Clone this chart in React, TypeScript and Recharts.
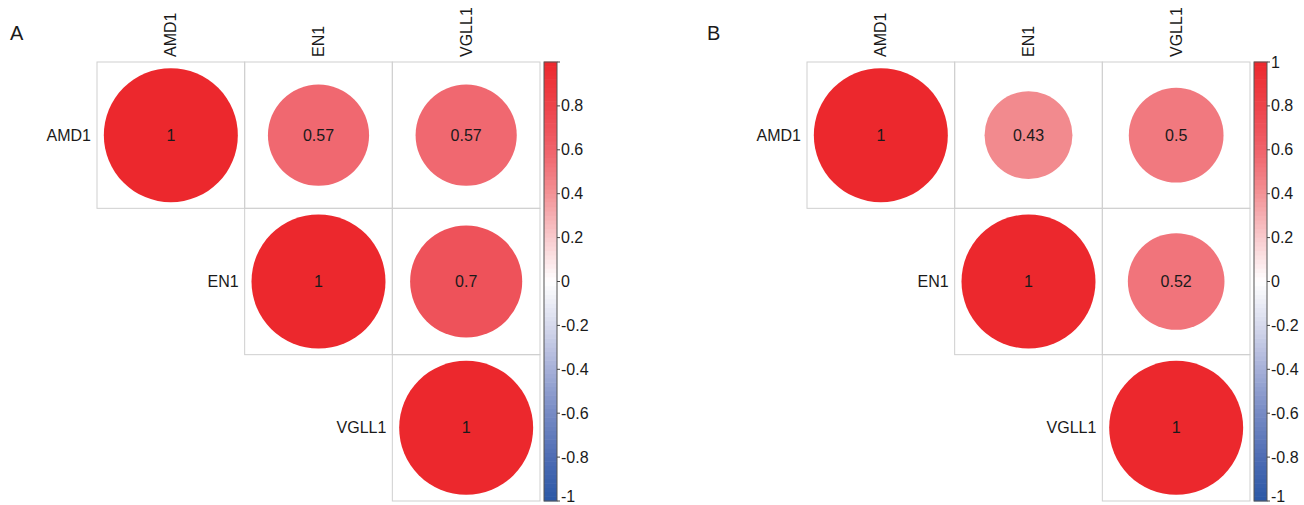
import React from 'react';
import { ScatterChart, Scatter, XAxis, YAxis } from 'recharts';

// gene names shared by both panels
const GENES = ['AMD1', 'EN1', 'VGLL1'];

// upper triangle, row by row: (AMD1,AMD1) (AMD1,EN1) (AMD1,VGLL1) (EN1,EN1) (EN1,VGLL1) (VGLL1,VGLL1)
const CORR_A = [1, 0.57, 0.57, 1, 0.7, 1];
const CORR_B = [1, 0.43, 0.5, 1, 0.52, 1];

const CB_TICKS = [-1, -0.8, -0.6, -0.4, -0.2, 0, 0.2, 0.4, 0.6, 0.8, 1];

const W = 594;
const H = 505;
const PLOT_LEFT = 97;
const PLOT_RIGHT = 540;
const PLOT_TOP = 62;
const PLOT_BOTTOM = 501;
const CELL_W = (PLOT_RIGHT - PLOT_LEFT) / 3;
const CELL_H = (PLOT_BOTTOM - PLOT_TOP) / 3;
const MAX_R = 67;
const CB_GAP = 4;
const CB_W = 13;
const FONT = '"Liberation Sans", Arial, Helvetica, sans-serif';

const RED_STOPS: [number, number[]][] = [
    [0, [255, 255, 255]],
    [0.2, [248, 202, 205]],
    [0.43, [242, 138, 142]],
    [0.57, [240, 104, 112]],
    [0.7, [238, 82, 90]],
    [1, [236, 40, 45]],
];
const BLUE_STOPS: [number, number[]][] = [
    [0, [255, 255, 255]],
    [0.2, [214, 217, 236]],
    [0.4, [166, 176, 216]],
    [0.6, [118, 138, 196]],
    [0.8, [78, 108, 180]],
    [1, [42, 88, 166]],
];

function corrColor(v: number) {
    const stops = v >= 0 ? RED_STOPS : BLUE_STOPS;
    const a = Math.min(1, Math.abs(v));
    for (let i = 1; i < stops.length; i++) {
        const [t1, c1] = stops[i];
        const [t0, c0] = stops[i - 1];
        if (a <= t1) {
            const f = (a - t0) / (t1 - t0);
            const c = c0.map((x, k) => Math.round(x + (c1[k] - x) * f));
            return `rgb(${c[0]},${c[1]},${c[2]})`;
        }
    }
    return 'rgb(236,40,45)';
}

function buildCells(values: number[]) {
    const out: any[] = [];
    let k = 0;
    for (let i = 0; i < GENES.length; i++) {
        for (let j = i; j < GENES.length; j++) {
            out.push({ x: j + 0.5, y: i + 0.5, r: values[k++] });
        }
    }
    return out;
}

// colour bar bands (legend only), anchored at the right edge of the grid
const BAND_STEP = 0.02;
const BANDS = Array.from({ length: 100 }, (_, i) => ({ x: 3, cb: -1 + i * BAND_STEP }));
const BAND_PX = ((PLOT_BOTTOM - PLOT_TOP) * BAND_STEP) / 2;
const CB_FRAME = [{ x: 3, cb: -1 }];

function CellShape(props: any) {
    const { cx, cy, payload } = props;
    const r = payload.r;
    return (
        <g>
            <rect
                x={cx - CELL_W / 2}
                y={cy - CELL_H / 2}
                width={CELL_W}
                height={CELL_H}
                fill="none"
                stroke="#cfcfcf"
                strokeWidth={1}
            />
            <circle cx={cx} cy={cy} r={MAX_R * Math.sqrt(Math.abs(r))} fill={corrColor(r)} />
            <text
                x={cx}
                y={cy}
                textAnchor="middle"
                dominantBaseline="central"
                fontSize={16}
                fontFamily={FONT}
                fill="#1a1a1a"
            >
                {String(r)}
            </text>
        </g>
    );
}

function BandShape(props: any) {
    const { cx, cy, payload } = props;
    return (
        <rect
            x={cx + CB_GAP}
            y={cy - BAND_PX - 0.3}
            width={CB_W}
            height={BAND_PX + 0.6}
            fill={corrColor(payload.cb + BAND_STEP / 2)}
        />
    );
}

function FrameShape(props: any) {
    const { cx, cy } = props;
    return (
        <rect
            x={cx + CB_GAP}
            y={cy - (PLOT_BOTTOM - PLOT_TOP)}
            width={CB_W}
            height={PLOT_BOTTOM - PLOT_TOP}
            fill="none"
            stroke="#555"
            strokeWidth={1}
        />
    );
}

function CorrPanel({ values, letter, left, showTop, letterX }: any) {
    const cells = buildCells(values);

    const colTick = (p: any) => {
        const idx = Math.round(p.payload.value - 0.5);
        const y = PLOT_TOP - 5;
        return (
            <text
                x={p.x}
                y={y}
                transform={`rotate(-90 ${p.x} ${y})`}
                textAnchor="start"
                dominantBaseline="central"
                fontSize={16}
                fontFamily={FONT}
                fill="#1a1a1a"
            >
                {GENES[idx]}
            </text>
        );
    };

    const rowTick = (p: any) => {
        const idx = Math.round(p.payload.value - 0.5);
        return (
            <text
                x={PLOT_LEFT + idx * CELL_W - 6}
                y={p.y}
                textAnchor="end"
                dominantBaseline="central"
                fontSize={16}
                fontFamily={FONT}
                fill="#1a1a1a"
            >
                {GENES[idx]}
            </text>
        );
    };

    const cbTick = (p: any) => {
        const v = p.payload.value;
        const x0 = PLOT_RIGHT + CB_GAP + CB_W;
        const hideLabel = v === 1 && !showTop;
        // keep the bottom label inside the picture
        const ty = v === -1 ? p.y - 5 : p.y;
        return (
            <g>
                <line x1={x0} x2={x0 + 3} y1={p.y} y2={p.y} stroke="#444" strokeWidth={1} />
                {!hideLabel && (
                    <text
                        x={x0 + 4}
                        y={ty}
                        textAnchor="start"
                        dominantBaseline="central"
                        fontSize={16}
                        fontFamily={FONT}
                        fill="#1a1a1a"
                    >
                        {String(v)}
                    </text>
                )}
            </g>
        );
    };

    return (
        <div style={{ position: 'absolute', left, top: 0, width: W, height: H }}>
            <div
                style={{
                    position: 'absolute',
                    left: letterX,
                    top: 23,
                    fontFamily: FONT,
                    fontSize: 20,
                    color: '#1a1a1a',
                    lineHeight: '20px',
                }}
            >
                {letter}
            </div>
            <ScatterChart
                width={W}
                height={H}
                margin={{ top: PLOT_TOP - 30, right: W - PLOT_RIGHT - 50, bottom: H - PLOT_BOTTOM, left: PLOT_LEFT - 60 }}
                style={{ overflow: 'visible' }}
            >
                <XAxis
                    type="number"
                    dataKey="x"
                    orientation="top"
                    domain={[0, 3]}
                    ticks={[0.5, 1.5, 2.5]}
                    interval={0}
                    height={30}
                    axisLine={false}
                    tickLine={false}
                    tick={colTick}
                />
                <YAxis
                    type="number"
                    dataKey="y"
                    domain={[0, 3]}
                    reversed
                    ticks={[0.5, 1.5, 2.5]}
                    interval={0}
                    width={60}
                    axisLine={false}
                    tickLine={false}
                    tick={rowTick}
                />
                <YAxis
                    yAxisId="cb"
                    orientation="right"
                    type="number"
                    dataKey="cb"
                    domain={[-1, 1]}
                    ticks={CB_TICKS}
                    interval={0}
                    width={50}
                    axisLine={false}
                    tickLine={false}
                    tick={cbTick}
                />
                <Scatter yAxisId="cb" data={BANDS} shape={BandShape} isAnimationActive={false} />
                <Scatter yAxisId="cb" data={CB_FRAME} shape={FrameShape} isAnimationActive={false} />
                <Scatter data={cells} shape={CellShape} isAnimationActive={false} />
            </ScatterChart>
        </div>
    );
}

export default function App() {
    return (
        <div style={{ position: 'absolute', left: 0, top: 0, width: 1304, height: 505, background: '#fff' }}>
            <CorrPanel values={CORR_A} letter="A" left={0} letterX={10} showTop={false} />
            <CorrPanel values={CORR_B} letter="B" left={710} letterX={-3} showTop={true} />
        </div>
    );
}
